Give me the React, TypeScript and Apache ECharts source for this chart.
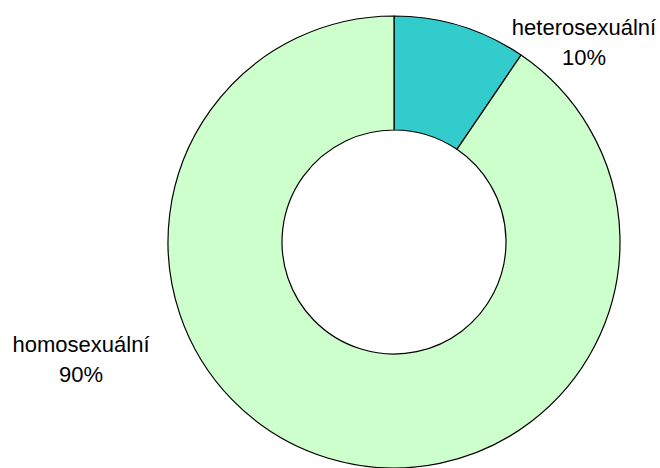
import React, { useEffect, useRef } from "react";
import * as echarts from "echarts";

const categories = ["heterosexuální", "homosexuální"];
const values = [9.5, 90.5];
const percentLabels = ["10%", "90%"];
const colors = ["#33CCCC", "#CCFFCC"];

const labelPos = [
  { x: 584, y: 12 },
  { x: 81, y: 329 },
];

export default function App() {
  const ref = useRef<HTMLDivElement>(null);
  useEffect(() => {
    if (!ref.current) return;
    const chart = echarts.init(ref.current, undefined, { renderer: "svg" });
    chart.setOption({
      animation: false,
      backgroundColor: "#ffffff",
      series: [
        {
          type: "pie",
          center: [394, 242],
          radius: [112, 226],
          startAngle: 90,
          clockwise: true,
          avoidLabelOverlap: false,
          data: categories.map((c, i) => ({
            name: c,
            value: values[i],
            itemStyle: { color: colors[i] },
          })),
          itemStyle: { borderColor: "#000000", borderWidth: 1.2 },
          label: {
            show: true,
            position: "outside",
            formatter: (p: any) => `${p.name}\n${percentLabels[p.dataIndex]}`,
            fontFamily: "Liberation Sans, Arial, sans-serif",
            fontSize: 22,
            lineHeight: 30,
            color: "#000000",
            align: "center",
          },
          labelLine: { show: false },
          labelLayout: (params: any) => {
            const p = labelPos[params.dataIndex];
            return { x: p.x, y: p.y, align: "center", verticalAlign: "top" };
          },
          emphasis: { disabled: true },
        },
      ],
    });
    return () => chart.dispose();
  }, []);
  return (
    <div
      ref={ref}
      style={{ width: 660, height: 468, position: "absolute", left: 0, top: 0 }}
    />
  );
}
